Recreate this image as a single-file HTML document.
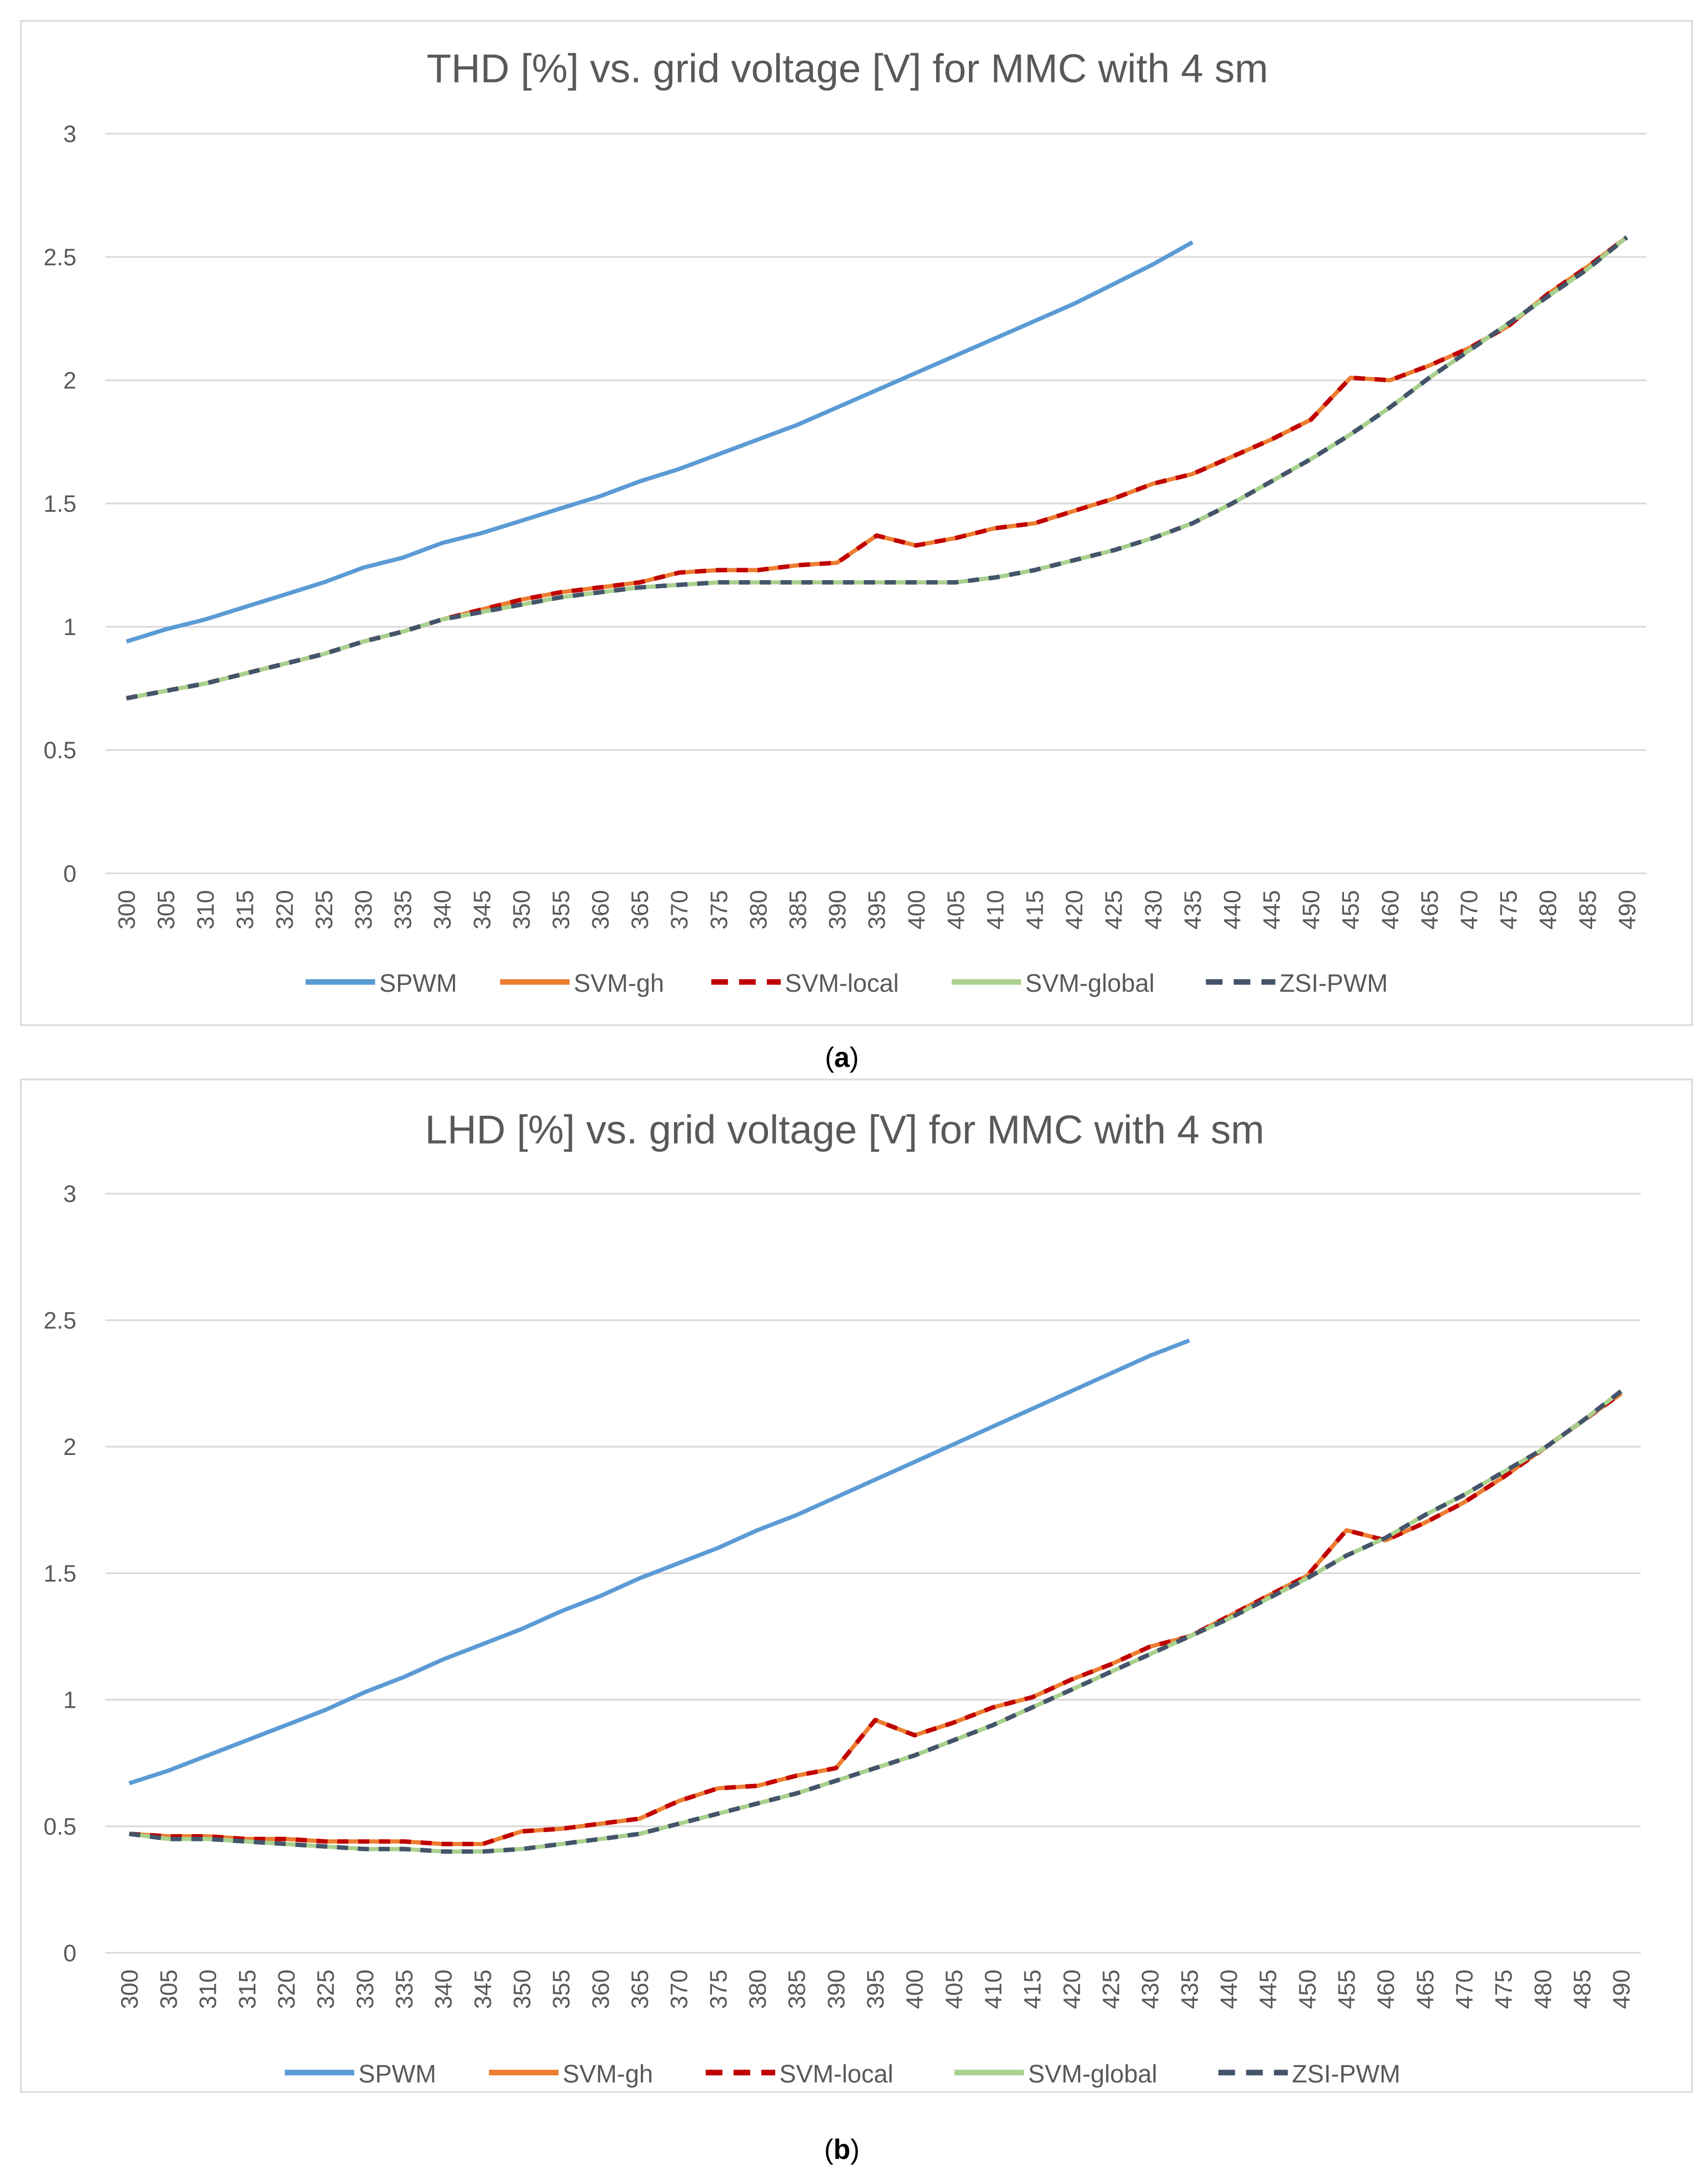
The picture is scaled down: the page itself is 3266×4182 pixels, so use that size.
<!DOCTYPE html>
<html><head><meta charset="utf-8"><style>
html,body{margin:0;padding:0;background:#fff;}
svg{display:block;}
text{font-family:"Liberation Sans",sans-serif;}
</style></head><body>
<svg id="fig" width="3266" height="4182" viewBox="0 0 1228 1568" preserveAspectRatio="none" xmlns="http://www.w3.org/2000/svg">
<rect x="0" y="0" width="1228" height="1568" fill="#fff"/>
<g id="chartA"></g>
<g id="chartB"></g>
<text x="606" y="766" text-anchor="middle" font-family="Liberation Serif" font-size="20" fill="#000">(<tspan font-weight="bold">a</tspan>)</text>
<text x="606" y="1550" text-anchor="middle" font-family="Liberation Serif" font-size="20" fill="#000">(<tspan font-weight="bold">b</tspan>)</text>
</svg>
<script>
const categories=[];for(let v=300;v<=490;v+=5)categories.push(v);
const yTicks=[0,0.5,1,1.5,2,2.5,3];
const seriesNames=["SPWM","SVM-gh","SVM-local","SVM-global","ZSI-PWM"];
const aSPWM=[0.94,0.99,1.03,1.08,1.13,1.18,1.24,1.28,1.34,1.38,1.43,1.48,1.53,1.59,1.64,1.70,1.76,1.82,1.89,1.96,2.03,2.10,2.17,2.24,2.31,2.39,2.47,2.56];
const aSVMgh=[0.71,0.74,0.77,0.81,0.85,0.89,0.94,0.98,1.03,1.07,1.11,1.14,1.16,1.18,1.22,1.23,1.23,1.25,1.26,1.37,1.33,1.36,1.40,1.42,1.47,1.52,1.58,1.62,1.69,1.76,1.84,2.01,2.00,2.06,2.13,2.22,2.35,2.46,2.58];
const aSVMlocal=aSVMgh.slice();
const aSVMglobal=[0.71,0.74,0.77,0.81,0.85,0.89,0.94,0.98,1.03,1.06,1.09,1.12,1.14,1.16,1.17,1.18,1.18,1.18,1.18,1.18,1.18,1.18,1.20,1.23,1.27,1.31,1.36,1.42,1.50,1.59,1.68,1.78,1.89,2.01,2.12,2.23,2.34,2.45,2.58];
const aZSI=aSVMglobal.slice();
const bSPWM=[0.67,0.72,0.78,0.84,0.90,0.96,1.03,1.09,1.16,1.22,1.28,1.35,1.41,1.48,1.54,1.60,1.67,1.73,1.80,1.87,1.94,2.01,2.08,2.15,2.22,2.29,2.36,2.42];
const bSVMgh=[0.47,0.46,0.46,0.45,0.45,0.44,0.44,0.44,0.43,0.43,0.48,0.49,0.51,0.53,0.60,0.65,0.66,0.70,0.73,0.92,0.86,0.91,0.97,1.01,1.08,1.14,1.21,1.25,1.33,1.41,1.49,1.67,1.63,1.70,1.78,1.88,1.99,2.10,2.21];
const bSVMlocal=bSVMgh.slice();
const bSVMglobal=[0.47,0.45,0.45,0.44,0.43,0.42,0.41,0.41,0.40,0.40,0.41,0.43,0.45,0.47,0.51,0.55,0.59,0.63,0.68,0.73,0.78,0.84,0.90,0.97,1.04,1.11,1.18,1.25,1.32,1.40,1.48,1.57,1.64,1.73,1.81,1.90,1.99,2.10,2.22];
const bZSI=bSVMglobal.slice();

const NS="http://www.w3.org/2000/svg";
function mk(tag,attrs,parent){const e=document.createElementNS(NS,tag);for(const k in attrs)e.setAttribute(k,attrs[k]);parent.appendChild(e);return e;}
const styles=[
 {c:"#5b9bd5",w:3,d:""},
 {c:"#ed7d31",w:3,d:""},
 {c:"#c00000",w:3.2,d:"8,7"},
 {c:"#a9d18e",w:3,d:""},
 {c:"#44546a",w:3.2,d:"8,7"}];
function draw(g,cfg,data){
  const grey="#595959";
  const box=mk("rect",{x:15,y:cfg.boxTop,width:1203,height:cfg.boxH,fill:"none",stroke:"#d9d9d9","stroke-width":1.2},g);
  
  
  const t=mk("text",{x:cfg.titleX,y:cfg.titleY,"text-anchor":"middle","font-size":29,fill:grey},g);t.textContent=cfg.title;
  
  
  const xs=i=>cfg.x0+(cfg.x1-cfg.x0)*i/(categories.length-1);
  const ys=v=>cfg.y0-(cfg.y0-cfg.y3)*v/3;
  yTicks.forEach(v=>{
    const l=mk("line",{x1:76,x2:cfg.gx2,y1:ys(v),y2:ys(v),stroke:"#d9d9d9","stroke-width":1.2},g);
    
    
    const tx=mk("text",{x:55,y:ys(v)+6,"text-anchor":"end","font-size":17,fill:grey},g);tx.textContent=String(v);
    
    
  });
  categories.forEach((c,i)=>{
    const tx=mk("text",{transform:`translate(${xs(i)+6},${cfg.y0+12}) rotate(-90)`,"text-anchor":"end","font-size":17,fill:grey},g);tx.textContent=c;
    
    
  });
  data.forEach((arr,s)=>{
    const pts=arr.map((v,i)=>xs(i).toFixed(1)+","+ys(v).toFixed(1)).join(" ");
    const p=mk("polyline",{points:pts,fill:"none",stroke:styles[s].c,"stroke-width":styles[s].w,"stroke-dasharray":styles[s].d,"stroke-linejoin":"round"},g);
    
    
  });
  const lx=cfg.legX;
  seriesNames.forEach((n,s)=>{
    const x=lx[s];
    const l=mk("line",{x1:x,x2:x+50,y1:cfg.legY,y2:cfg.legY,stroke:styles[s].c,"stroke-width":4,"stroke-dasharray":styles[s].d?"12,8":""},g);
    
    
    const tx=mk("text",{x:x+53,y:cfg.legY+7,"font-size":18,fill:grey},g);tx.textContent=n;
    
    
  });
}
draw(document.getElementById("chartA"),{boxTop:15,boxH:721,title:"THD [%] vs. grid voltage [V] for MMC with 4 sm",titleX:610,titleY:59,x0:91,x1:1171,y0:627,y3:96,gx2:1185,legY:705,legX:[220,360,512,685,868]},[aSPWM,aSVMgh,aSVMlocal,aSVMglobal,aZSI]);
draw(document.getElementById("chartB"),{boxTop:775,boxH:727,title:"LHD [%] vs. grid voltage [V] for MMC with 4 sm",titleX:608,titleY:821,x0:93,x1:1167,y0:1402,y3:857,gx2:1181,legY:1488,legX:[205,352,508,687,877]},[bSPWM,bSVMgh,bSVMlocal,bSVMglobal,bZSI]);
</script>
</body></html>
